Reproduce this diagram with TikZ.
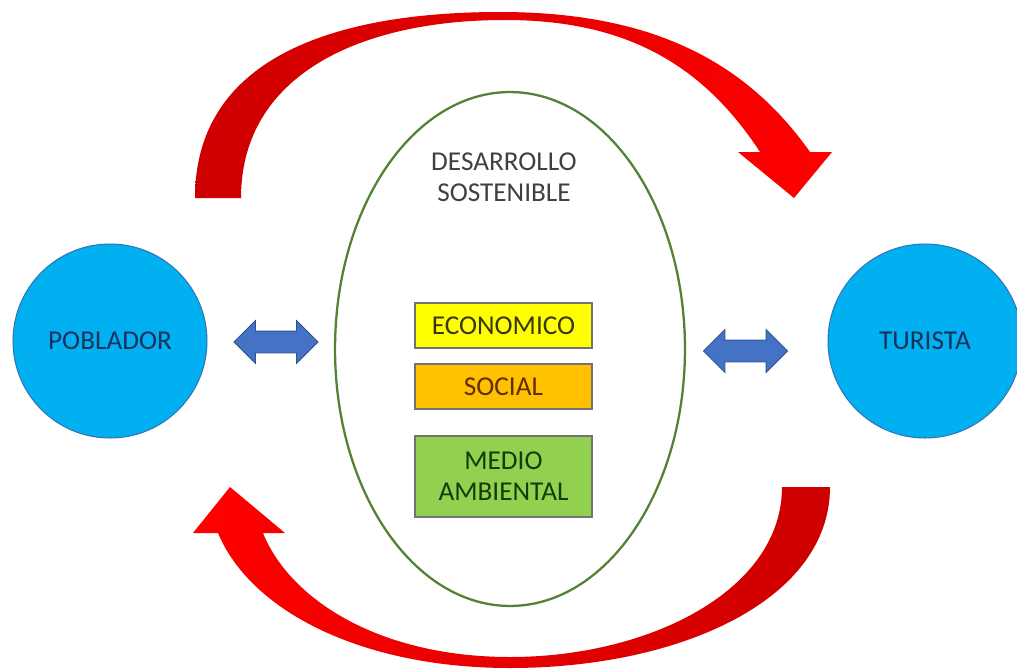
\documentclass[tikz,border=0pt]{standalone}
\usepackage{fontspec}
\setmainfont{Carlito}
\usetikzlibrary{shapes.geometric}
\usetikzlibrary{shapes.arrows}
\usetikzlibrary{positioning}
\definecolor{cielo}{RGB}{0,176,240}
\definecolor{cieloborde}{RGB}{46,117,182}
\definecolor{marino}{RGB}{24,50,92}
\definecolor{verdeborde}{RGB}{84,130,53}
\definecolor{azulflecha}{RGB}{68,114,196}
\definecolor{azulborde}{RGB}{47,82,143}
\definecolor{rojo}{RGB}{255,0,0}
\definecolor{rojooscuro}{RGB}{205,0,0}
\definecolor{amarillo}{RGB}{255,255,0}
\definecolor{naranja}{RGB}{255,192,0}
\definecolor{verdeclaro}{RGB}{146,208,80}
\tikzset{
    actor/.style = {circle, draw=cieloborde, line width=0.6pt, fill=cielo, minimum size=3.88cm, inner sep=0pt, text=marino},
    pilar/.style = {rectangle, draw=black!55, line width=0.8pt, minimum width=3.54cm, minimum height=0.9cm, inner sep=0pt, align=center},
    marco/.style = {ellipse, draw=verdeborde, line width=1.3pt, minimum width=7cm, minimum height=10.28cm, inner sep=0pt},
    enlace/.style = {double arrow, draw=azulborde, line width=0.5pt, fill=azulflecha, minimum height=1.68cm, minimum width=0.84cm,
        double arrow head extend=0.21cm, double arrow tip angle=90, inner xsep=0pt, inner ysep=0.21cm},
    giro/.style = {draw=none, left color=rojooscuro, right color=rojo}, % top arrow
    giroinv/.style = {draw=none, left color=rojo, right color=rojooscuro} % bottom arrow
}

\begin{document}
\begin{tikzpicture}[
  x=0.02cm, y=-0.02cm,
  font=\fontsize{15.5}{17.5}\selectfont]
  \useasboundingbox (0,0) rectangle (1017,669);

  \node[marco] at (510,349) (sust) {};
  \node[align=center, text=black!75] at (504,177) (titulo) {DESARROLLO\\SOSTENIBLE};

  \node[pilar, fill=amarillo, text={rgb,255:red,55;green,55;blue,20}] at (503.5,325.5) (eco) {ECONOMICO};
  \node[pilar, fill=naranja, text={rgb,255:red,95;green,45;blue,0}] at (503.5,386.5) (soc) {SOCIAL};
  \node[pilar, fill=verdeclaro, minimum height=1.62cm, text={rgb,255:red,20;green,60;blue,10}] at (503.5,476.5) (amb) {MEDIO\\AMBIENTAL};

  \node[actor] at (110,341) (pob) {POBLADOR};
  \node[actor] at (925,341) (tur) {TURISTA};

  \node[enlace] at (276,342) (enlpob) {};
  \node[enlace] at (745.5,351) (enltur) {};

  % poblador -> turista
  \shade[giro] (195,198) .. controls (195,60) and (330,12) .. (500,12)
    .. controls (650,12) and (745,60) .. (810,152) -- (832,152) -- (794,198) -- (738,152) -- (760,152)
    .. controls (700,60) and (620,20) .. (505,20)
    .. controls (360,20) and (241,75) .. (241,198) -- cycle;

  % turista -> poblador
  \shade[giroinv] (830,487) .. controls (830,600) and (680,668) .. (510,668)
    .. controls (360,668) and (250,610) .. (218,533) -- (193,533) -- (230,487) -- (285,533) -- (263,533)
    .. controls (290,600) and (380,657) .. (510,657)
    .. controls (650,657) and (782,590) .. (782,487) -- cycle;

\end{tikzpicture}
\end{document}
